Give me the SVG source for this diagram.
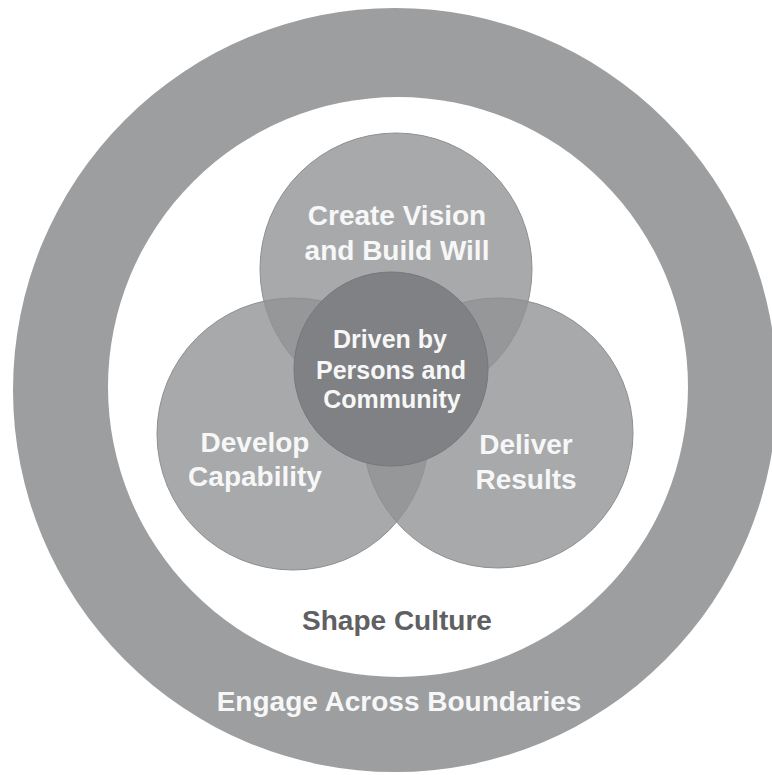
<svg xmlns="http://www.w3.org/2000/svg" width="772" height="775" viewBox="0 0 772 775">
<style>
.lbl{font-family:"Liberation Sans",Arial,sans-serif;font-weight:bold;fill:#f7f7f7;text-anchor:middle}
.petal{fill:rgb(145,146,148);fill-opacity:0.79;stroke:#8e8f91;stroke-width:1}
</style>
<rect width="772" height="775" fill="#ffffff"/>
<g id="outer-ring">
<circle cx="395" cy="390" r="382" fill="#9d9ea0"/>
<circle cx="398" cy="387" r="290" fill="#ffffff"/>
<text class="lbl" x="399" y="711" font-size="28">Engage Across Boundaries</text>
</g>
<g id="shape-culture">
<text class="lbl" x="397" y="630" font-size="28" style="fill:#5f6062">Shape Culture</text>
</g>
<g id="create-vision">
<circle class="petal" cx="396" cy="269" r="136"/>
<text class="lbl" x="397" y="225" font-size="28">Create Vision</text>
<text class="lbl" x="397" y="260" font-size="28">and Build Will</text>
</g>
<g id="develop-capability">
<circle class="petal" cx="293" cy="434" r="136"/>
<text class="lbl" x="255" y="452" font-size="28">Develop</text>
<text class="lbl" x="255" y="486" font-size="28">Capability</text>
</g>
<g id="deliver-results">
<circle class="petal" cx="498" cy="433" r="135"/>
<text class="lbl" x="526" y="454" font-size="28">Deliver</text>
<text class="lbl" x="526" y="489" font-size="28">Results</text>
</g>
<g id="center">
<circle cx="391" cy="369" r="97" fill="#808184" stroke="#77787b" stroke-width="1"/>
<text class="lbl" x="390" y="348" font-size="25">Driven by</text>
<text class="lbl" x="391" y="379" font-size="25">Persons and</text>
<text class="lbl" x="392" y="408" font-size="25">Community</text>
</g>
<g id="connectors"/>
</svg>
